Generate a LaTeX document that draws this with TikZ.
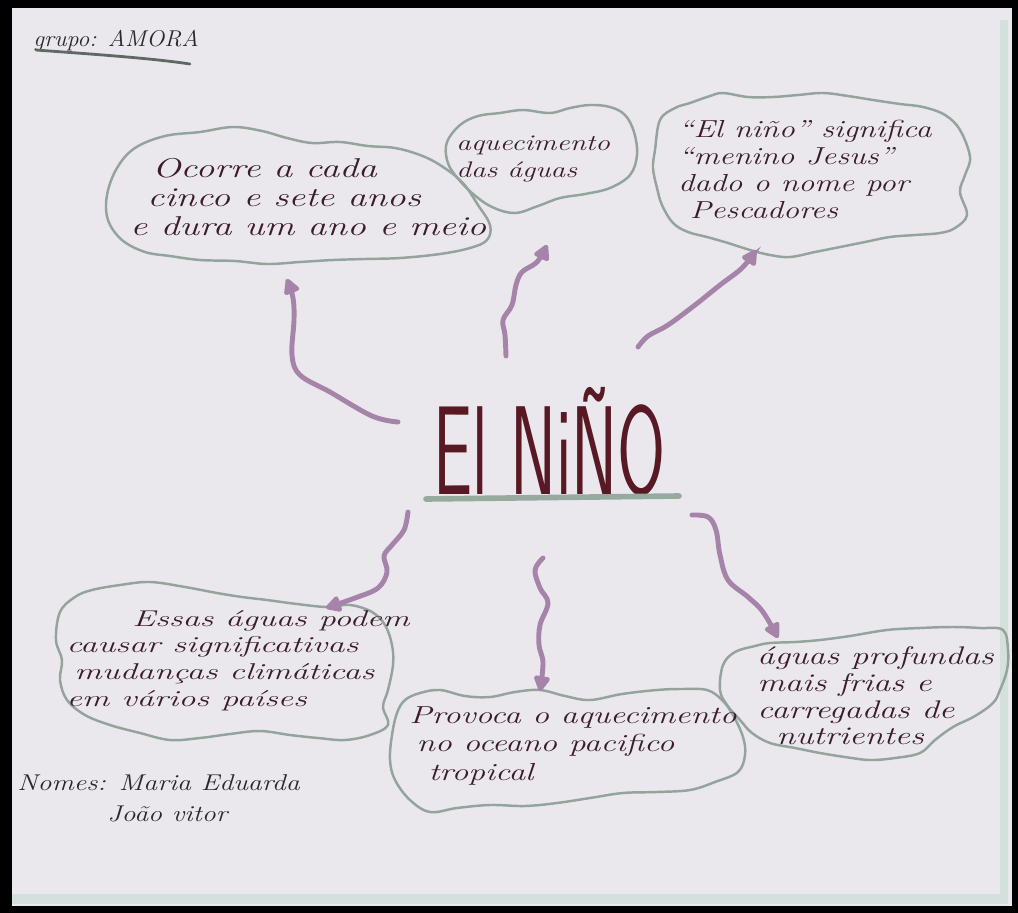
\documentclass[tikz,border=0pt]{standalone}
\usetikzlibrary{arrows.meta}
\definecolor{paper}{RGB}{234,232,236}
\definecolor{ink}{RGB}{58,28,42}
\definecolor{pencil}{RGB}{45,38,48}
\definecolor{maroon}{RGB}{88,24,36}
\definecolor{cloudc}{RGB}{148,163,156}
\definecolor{arrc}{RGB}{166,132,170}
\definecolor{edgec}{RGB}{212,224,220}
\definecolor{ulc}{RGB}{150,170,160}
\definecolor{grpul}{RGB}{95,105,100}
\begin{document}
\begin{tikzpicture}[x=0.02cm,y=-0.02cm,
  cloudline/.style={draw=cloudc, line width=1.4pt, line join=round},
  hw/.style={text=ink, align=left, inner sep=0pt, anchor=north west, transform shape},
  arrowline/.style={draw=arrc, line width=2.8pt, line cap=round,
     -{Triangle[length=10pt,width=10pt,round]}},
  title/.style={text=maroon, inner sep=0pt, xscale=0.55, transform shape, anchor=base,
     font=\fontsize{72}{72}\selectfont\sffamily}]
\useasboundingbox (0,0) rectangle (1018,913);
\fill[black] (0,0) rectangle (1018,913);
\fill[paper] (12,8) rectangle (1012,906);
\fill[edgec] (1000,20) rectangle (1008,895);
\fill[edgec] (12,894) rectangle (1008,904);

% clouds
\draw[cloudline] plot[smooth cycle, tension=0.6] coordinates {(117,168) (135,148) (165,136) (200,132) (233,127) (262,131) (287,138) (312,143) (340,142) (368,146) (395,148) (420,155) (440,165) (462,182) (478,205) (490,225) (487,240) (470,248) (440,254) (400,258) (365,259) (333,260) (300,262) (267,264) (235,261) (200,260) (170,256) (145,252) (122,240) (108,220) (107,195)};
\draw[cloudline] plot[smooth cycle, tension=0.6] coordinates {(447,142) (460,125) (478,116) (500,113) (523,110) (550,113) (570,108) (590,105) (610,107) (625,115) (634,132) (637,155) (630,175) (610,188) (585,194) (560,198) (538,206) (515,213) (492,207) (472,193) (455,175) (447,160)};
\draw[cloudline] plot[smooth cycle, tension=0.6] coordinates {(655,150) (660,120) (675,108) (690,103) (710,96) (723,93) (748,97) (773,97) (798,95) (823,93) (848,96) (873,100) (900,104) (923,107) (945,115) (960,130) (970,157) (965,175) (960,192) (967,215) (955,228) (940,233) (915,235) (890,237) (865,242) (840,247) (815,252) (790,257) (770,255) (750,250) (728,243) (707,237) (688,232) (673,223) (662,205) (657,188) (653,168)};
\draw[cloudline] plot[smooth cycle, tension=0.6] coordinates {(60,612) (75,597) (92,590) (120,585) (150,582) (185,587) (217,593) (242,597) (267,600) (297,604) (327,607) (350,605) (372,612) (385,625) (392,645) (393,665) (388,690) (383,707) (388,725) (370,735) (345,740) (318,738) (290,735) (260,731) (230,734) (200,738) (170,740) (140,733) (110,725) (85,715) (67,700) (60,680) (62,660) (56,640)};
\draw[cloudline] plot[smooth cycle, tension=0.6] coordinates {(397,713) (405,700) (420,693) (440,690) (465,696) (490,697) (515,692) (540,690) (565,696) (590,700) (622,694) (657,690) (682,689) (707,690) (722,700) (733,715) (743,737) (745,755) (738,772) (715,782) (690,790) (657,792) (623,793) (590,798) (557,803) (525,806) (490,805) (457,808) (430,812) (410,800) (395,780) (390,760) (392,735)};
\draw[cloudline] plot[smooth cycle, tension=0.6] coordinates {(720,690) (723,665) (735,652) (755,646) (770,643) (795,642) (820,640) (850,636) (887,630) (920,628) (953,627) (980,628) (1003,630) (1008,650) (1007,670) (1000,690) (993,703) (975,716) (953,727) (935,740) (920,753) (895,758) (870,760) (845,757) (820,753) (795,748) (770,743) (752,733) (740,720) (727,705)};

% texts
\node[hw, xscale=1.38, font=\fontsize{15.5}{16.5}\selectfont\itshape] (t1) at (130,158)
  {\hspace*{9pt}Ocorre a cada\\\hspace*{7pt}cinco e sete anos\\e dura um ano e meio};
\node[hw, xscale=1.3, font=\fontsize{12.8}{15}\selectfont\itshape] (t2) at (456,136)
  {aquecimento\\das águas};
\node[hw, xscale=1.3, font=\fontsize{14}{15.3}\selectfont\itshape] (t3) at (678,120)
  {“El niño” significa\\“menino Jesus”\\dado o nome por\\\hspace*{5pt}Pescadores};
\node[hw, xscale=1.5, font=\fontsize{13}{15.2}\selectfont\itshape] (t4) at (66,610)
  {\hspace*{25pt}Essas águas podem\\causar significativas\\\hspace*{3pt}mudanças climáticas\\em vários países};
\node[hw, xscale=1.36, font=\fontsize{14}{16.4}\selectfont\itshape] (t5) at (409,706)
  {Provoca o aquecimento\\\hspace*{3pt}no oceano pacifico\\\hspace*{8pt}tropical};
\node[hw, xscale=1.35, font=\fontsize{14.5}{15.3}\selectfont\itshape] (t6) at (757,646)
  {águas profundas\\mais frias e\\carregadas de\\\hspace*{8pt}nutrientes};
\node[text=pencil, inner sep=0pt, anchor=west, xscale=1.05, transform shape,
  font=\fontsize{13}{15}\selectfont\itshape] (grp) at (33,41)
  {grupo: AMORA};
\node[text=pencil, inner sep=0pt, anchor=north west, align=left, xscale=1.22, transform shape,
  font=\fontsize{13}{18}\selectfont\itshape] (nomes) at (17,774)
  {Nomes: Maria Eduarda\\\hspace*{42pt}João vitor};

% title
\node[title] (elnino) at (550,494) {El NiÑO};
\draw[ulc, line width=3.2pt, line cap=round] (426,499) -- (679,496);
\draw[grpul, line width=1.6pt, line cap=round] (36,50) .. controls (90,54) and (150,58) .. (190,64);

% arrows
\coordinate (a1s) at (398,422); \coordinate (a1e) at (287,279);
\coordinate (a2s) at (506,356); \coordinate (a2e) at (547,245);
\coordinate (a3s) at (638,347); \coordinate (a3e) at (756,250);
\coordinate (a4s) at (408,512); \coordinate (a4e) at (326,608);
\coordinate (a5s) at (543,558); \coordinate (a5e) at (540,691);
\coordinate (a6s) at (692,515); \coordinate (a6e) at (778,638);
\draw[arrowline] plot[smooth, tension=0.6] coordinates {(a1s) (372,416) (330,392) (300,375) (292,355) (294,320) (293,298) (a1e)};
\draw[arrowline] plot[smooth, tension=0.6] coordinates {(a2s) (505,335) (503,320) (512,305) (516,285) (522,272) (537,262) (a2e)};
\draw[arrowline] plot[smooth, tension=0.6] coordinates {(a3s) (648,336) (668,325) (695,305) (720,285) (742,268) (a3e)};
\draw[arrowline] plot[smooth, tension=0.6] coordinates {(a4s) (404,530) (392,545) (384,556) (387,572) (378,588) (355,598) (a4e)};
\draw[arrowline] plot[smooth, tension=0.6] coordinates {(a5s) (535,570) (540,588) (548,603) (540,625) (539,645) (543,663) (a5e)};
\draw[arrowline] plot[smooth, tension=0.6] coordinates {(a6s) (708,517) (716,530) (720,555) (728,580) (748,597) (763,612) (a6e)};
\end{tikzpicture}
\end{document}
